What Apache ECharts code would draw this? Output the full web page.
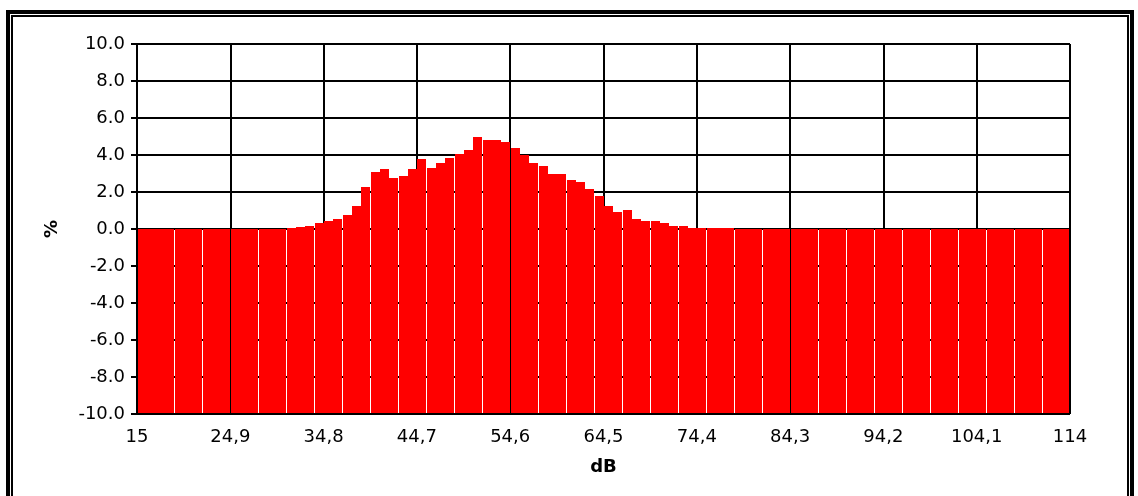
<!DOCTYPE html>
<html>
<head>
<meta charset="utf-8">
<script src="https://cdn.jsdelivr.net/npm/echarts@6/dist/echarts.min.js"></script>
<style>
html,body{margin:0;padding:0;background:#fff;}
#chart{width:1138px;height:496px;background:#fff;}
</style>
</head>
<body>
<div id="chart"></div>
<script>
// ---- data (bin start in dB; each bin is 0.99 dB wide, 100 bins from 15 to 114 dB) ----
const binStartDb = [
  15, 15.99, 16.98, 17.97, 18.96, 19.95, 20.94, 21.93, 22.92, 23.91,
  24.9, 25.89, 26.88, 27.87, 28.86, 29.85, 30.84, 31.83, 32.82, 33.81,
  34.8, 35.79, 36.78, 37.77, 38.76, 39.75, 40.74, 41.73, 42.72, 43.71,
  44.7, 45.69, 46.68, 47.67, 48.66, 49.65, 50.64, 51.63, 52.62, 53.61,
  54.6, 55.59, 56.58, 57.57, 58.56, 59.55, 60.54, 61.53, 62.52, 63.51,
  64.5, 65.49, 66.48, 67.47, 68.46, 69.45, 70.44, 71.43, 72.42, 73.41,
  74.4, 75.39, 76.38, 77.37, 78.36, 79.35, 80.34, 81.33, 82.32, 83.31,
  84.3, 85.29, 86.28, 87.27, 88.26, 89.25, 90.24, 91.23, 92.22, 93.21,
  94.2, 95.19, 96.18, 97.17, 98.16, 99.15, 100.14, 101.13, 102.12, 103.11,
  104.1, 105.09, 106.08, 107.07, 108.06, 109.05, 110.04, 111.03, 112.02, 113.01
];
const percentValues = [
  0, 0, 0, 0, 0, 0, 0, 0, 0, 0,
  0, 0, 0, 0, 0, 0.02, 0.06, 0.13, 0.16, 0.30,
  0.41, 0.55, 0.74, 1.24, 2.26, 3.07, 3.25, 2.78, 2.85, 3.27,
  3.78, 3.28, 3.57, 3.86, 4.07, 4.28, 4.98, 4.80, 4.79, 4.69,
  4.38, 4.02, 3.57, 3.38, 2.98, 2.98, 2.67, 2.55, 2.17, 1.76,
  1.26, 0.94, 1.05, 0.55, 0.45, 0.44, 0.33, 0.15, 0.15, 0.07,
  0.06, 0.05, 0.05, 0.05, 0, 0, 0, 0, 0, 0,
  0, 0, 0, 0, 0, 0, 0, 0, 0, 0,
  0, 0, 0, 0, 0, 0, 0, 0, 0, 0,
  0, 0, 0, 0, 0, 0, 0, 0, 0, 0
];
const xTickLabels = ['15', '24,9', '34,8', '44,7', '54,6', '64,5', '74,4', '84,3', '94,2', '104,1', '114'];
const yTickLabels = ['-10.0', '-8.0', '-6.0', '-4.0', '-2.0', '0.0', '2.0', '4.0', '6.0', '8.0', '10.0'];
const xName = 'dB';
const yName = '%';

// ---- chart ----
const Y_MIN = -10, Y_MAX = 10, Y_STEP = 2;
const BIN_COUNT = binStartDb.length;
const seriesData = percentValues.map((v, i) => [i, v]);

const chart = echarts.init(document.getElementById('chart'), null, {renderer: 'canvas', devicePixelRatio: 1});
const FONT = '"DejaVu Sans", Verdana, sans-serif';

chart.setOption({
  animation: false,
  backgroundColor: '#ffffff',
  grid: {left: 137, right: 68, top: 44, bottom: 82, containLabel: false,
         show: true, backgroundColor: '#ffffff', borderWidth: 0},
  xAxis: {
    type: 'value',
    min: 0, max: BIN_COUNT, interval: 10,
    name: xName, nameLocation: 'middle', nameGap: 44,
    nameTextStyle: {fontFamily: FONT, fontSize: 18, fontWeight: 'bold', color: '#000'},
    axisLine: {show: true, lineStyle: {color: '#000', width: 2}},
    axisTick: {show: true, length: 6, lineStyle: {color: '#000', width: 2}},
    axisLabel: {
      margin: 14, fontFamily: FONT, fontSize: 18, color: '#000',
      formatter: v => xTickLabels[Math.round(v / 10)]
    },
    splitLine: {show: true, lineStyle: {color: '#000', width: 2}}
  },
  yAxis: {
    type: 'value',
    min: Y_MIN, max: Y_MAX, interval: Y_STEP,
    name: yName, nameLocation: 'middle', nameGap: 76,
    nameTextStyle: {fontFamily: FONT, fontSize: 18, fontWeight: 'bold', color: '#000'},
    axisLine: {show: true, lineStyle: {color: '#000', width: 2}},
    axisTick: {show: true, length: 6, lineStyle: {color: '#000', width: 2}},
    axisLabel: {
      margin: 12, fontFamily: FONT, fontSize: 18, color: '#000',
      formatter: v => yTickLabels[Math.round((v - Y_MIN) / Y_STEP)]
    },
    splitLine: {show: true, lineStyle: {color: '#000', width: 2}}
  },
  series: [{
    type: 'custom',
    data: seriesData,
    renderItem: function (params, api) {
      const i = api.value(0);
      const v = api.value(1);
      const pBase = api.coord([i, Y_MIN]);
      const pTop = api.coord([i + 1, v]);
      const pEnd = api.coord([BIN_COUNT, Y_MIN]);
      const pitch = api.size([1, 0])[0];
      const left = Math.floor(pBase[0]) + 1;
      let right = left + Math.floor(pitch);
      right = Math.min(right, Math.round(pEnd[0]) - 1);
      const bottom = Math.round(pBase[1]) - 1;
      const top = Math.round(pTop[1]);
      return {
        type: 'rect',
        shape: {x: left, y: top, width: right - left, height: bottom - top},
        style: {fill: '#ff0000', stroke: null, lineWidth: 0}
      };
    }
  }],
  graphic: [
    {type: 'rect', shape: {x: 8, y: 12, width: 1124, height: 600},
     style: {fill: null, stroke: '#000', lineWidth: 4}, silent: true},
    {type: 'rect', shape: {x: 12, y: 16, width: 1116, height: 600},
     style: {fill: null, stroke: '#000', lineWidth: 2}, silent: true}
  ]
});
</script>
</body>
</html>
